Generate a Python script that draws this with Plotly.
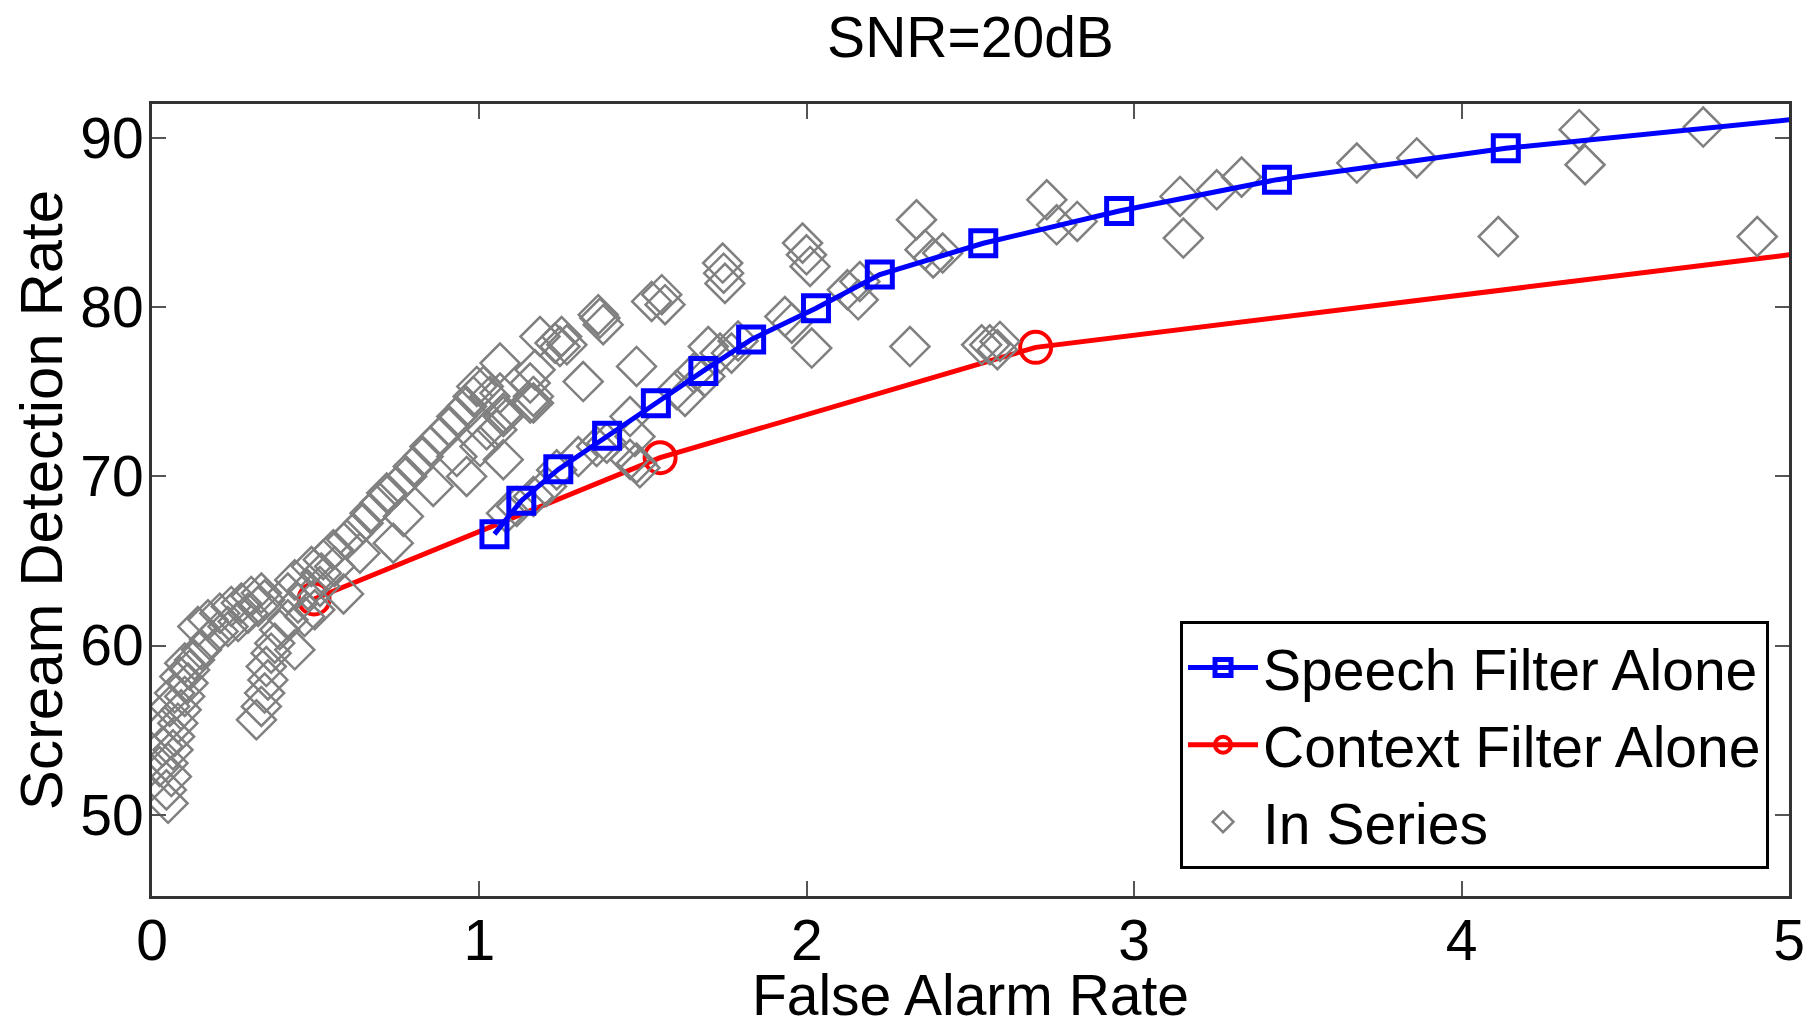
import plotly.graph_objects as go

# ---------------- data ----------------
speech_x = [1.046, 1.128, 1.241, 1.390, 1.539, 1.684, 1.830, 2.028, 2.223, 2.539, 2.954, 3.436, 4.135, 5.15]
speech_y = [66.58, 68.56, 70.41, 72.40, 74.32, 76.23, 78.08, 79.93, 81.92, 83.77, 85.68, 87.53, 89.38, 91.36]

context_x = [0.495, 1.552, 2.699, 5.4]
context_y = [62.75, 71.10, 77.62, 84.04]

series_x = [
    # lower-left chain
    0.049, 0.044, 0.059, 0.049, 0.064, 0.069, 0.079, 0.089, 0.100, 0.110, 0.115, 0.130, 0.151, 0.176,
    0.202, 0.232, 0.263, 0.293, 0.324, 0.344,
    0.023, 0.033, 0.039, 0.054, 0.069, 0.085, 0.100, 0.140, 0.171, 0.207, 0.242, 0.273, 0.303, 0.334,
    # second lower chain
    0.319, 0.334, 0.344, 0.354, 0.349, 0.364, 0.375, 0.390, 0.436, 0.415,
    # cluster near first red circle
    0.415, 0.446, 0.476, 0.497, 0.466, 0.436, 0.517, 0.487, 0.558, 0.585, 0.513,
    # upper band
    0.523, 0.554, 0.595, 0.615, 0.645, 0.666, 0.696, 0.717, 0.747, 0.778, 0.798, 0.828, 0.849, 0.880,
    0.910, 0.931, 0.961, 0.981, 1.012, 1.063, 1.155,
    0.992, 1.032, 1.063, 1.155, 1.165, 1.073, 1.185, 1.246,
    # lower row
    0.635, 0.737, 0.768, 0.859, 0.961, 0.931, 1.002, 1.022, 1.073, 1.053, 1.073,
    # along blue line
    1.083, 1.114, 1.165, 1.205, 1.236, 1.302, 1.358, 1.389, 1.460, 1.475, 1.480, 1.460, 1.490,
    1.603, 1.628, 1.655, 1.689, 1.699, 1.735, 1.770, 1.790,
    # upper scattered
    1.170, 1.165, 1.251, 1.231, 1.267, 1.368, 1.363, 1.378, 1.317, 1.480, 1.526, 1.557, 1.567,
    1.743, 1.746, 1.750,
    1.987, 1.999, 2.010, 1.933, 1.954, 2.015, 2.124, 2.162, 2.157, 2.335, 2.361, 2.386, 2.415,
    2.315, 2.534, 2.559, 2.582, 2.590,
    2.733, 2.763, 2.826, 3.140, 3.150, 3.252, 3.328, 3.680,
    3.863, 4.359, 4.377, 4.738, 4.112, 4.903,
]
series_y = [
    50.68, 51.47, 52.26, 53.05, 53.84, 54.62, 55.41, 56.20, 56.99, 57.78, 58.56, 59.15, 59.75, 60.34,
    60.83, 61.12, 61.42, 61.91, 62.31, 62.70,
    52.85, 54.03, 55.21, 56.40, 57.19, 58.17, 58.96, 61.12, 61.52, 61.91, 62.31, 62.51, 62.90, 63.10,
    55.61, 56.40, 57.19, 57.97, 58.76, 59.55, 60.14, 60.93, 59.75, 61.52,
    63.10, 62.51, 63.29, 62.11, 61.71, 63.88, 64.28, 64.67, 64.67, 63.05, 63.49,
    65.07, 65.66, 66.25, 66.64, 67.23, 67.82, 68.42, 69.01, 69.40, 69.99, 70.58, 71.17, 71.76, 72.35,
    72.94, 73.53, 74.13, 74.72, 75.31, 74.92, 74.33,
    75.31, 74.72, 76.69, 75.51, 74.33, 73.73, 78.26, 77.67,
    65.46, 66.05, 67.63, 69.40, 69.99, 71.17, 71.76, 72.75, 70.98, 72.75, 73.53,
    67.82, 68.22, 68.81, 69.40, 70.38, 71.17, 71.76, 71.96, 73.53, 72.35, 70.78, 71.00, 70.50,
    75.11, 74.72, 76.10, 75.90, 77.67, 77.28, 77.28, 78.00,
    76.29, 74.72, 78.26, 77.87, 77.77, 79.35, 79.55, 78.96, 75.60, 76.49, 80.33, 80.73, 80.14,
    82.60, 82.00, 81.40,
    83.78, 83.09, 82.40, 79.44, 79.05, 77.58, 81.02, 81.51, 80.43, 85.16, 83.39, 82.90, 83.19,
    77.67, 77.77, 77.77, 77.48, 77.97,
    86.34, 84.86, 85.06, 86.54, 84.08, 86.93, 87.68, 88.51,
    88.81, 90.48, 88.41, 90.64, 84.17, 84.17,
]

x_ticks = [0, 1, 2, 3, 4, 5]
y_ticks = [50, 60, 70, 80, 90]

FONT = "Liberation Sans, Arial, Helvetica, sans-serif"

fig = go.Figure()

fig.add_trace(go.Scatter(
    x=context_x, y=context_y, mode="lines+markers", name="Context Filter Alone",
    line=dict(color="#ff0000", width=5),
    marker=dict(symbol="circle-open", size=31, color="#ff0000", line=dict(width=4, color="#ff0000")),
    legendrank=2,
))
fig.add_trace(go.Scatter(
    x=series_x, y=series_y, mode="markers", name="In Series",
    marker=dict(symbol="diamond-open", size=30, color="#808080", line=dict(width=2.5, color="#808080")),
    legendrank=3,
))
fig.add_trace(go.Scatter(
    x=speech_x, y=speech_y, mode="lines+markers", name="Speech Filter Alone",
    line=dict(color="#0000ff", width=5),
    marker=dict(symbol="square-open", size=25, color="#0000ff", line=dict(width=5, color="#0000ff")),
    legendrank=1,
))

fig.update_layout(
    width=1820, height=1019,
    margin=dict(l=144, r=39, t=96, b=131, autoexpand=False),
    paper_bgcolor="white", plot_bgcolor="white",
    font=dict(family=FONT, size=57, color="black"),
    title=dict(text="SNR=20dB", x=0.5, xref="paper", xanchor="center",
               y=1 - 29 / 1019, yref="container", yanchor="middle",
               font=dict(family=FONT, size=57, color="black")),
    xaxis=dict(range=[0, 5], tickvals=x_ticks, ticks="inside", ticklen=15, tickwidth=2,
               tickcolor="#555555", showline=True, linewidth=3, linecolor="#333333",
               mirror="ticks", showgrid=False, zeroline=False, ticklabelstandoff=-7,
               tickfont=dict(family=FONT, size=57, color="black"),
               title=dict(text="False Alarm Rate", standoff=16,
                          font=dict(family=FONT, size=57, color="black"))),
    yaxis=dict(range=[45.2, 92], tickvals=y_ticks, ticks="inside", ticklen=14, tickwidth=2,
               tickcolor="#555555", showline=True, linewidth=3, linecolor="#333333",
               mirror="ticks", showgrid=False, zeroline=False, ticklabelstandoff=-6,
               tickfont=dict(family=FONT, size=57, color="black"),
               title=dict(text="Scream Detection Rate", standoff=14,
                          font=dict(family=FONT, size=60, color="black"))),
    legend=dict(x=0.9878, xanchor="right", y=0.034, yanchor="bottom",
                bordercolor="black", borderwidth=3, bgcolor="white",
                font=dict(family=FONT, size=57, color="black"),
                tracegroupgap=0, itemwidth=70),
    showlegend=True,
)

fig.write_html("out.html")
